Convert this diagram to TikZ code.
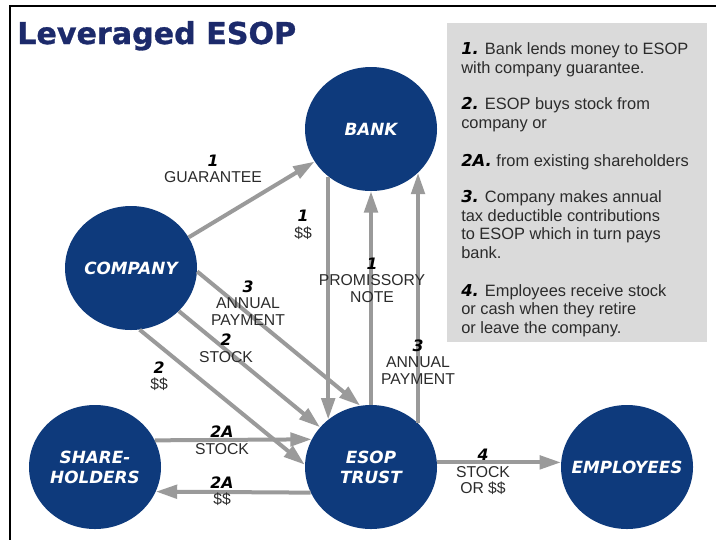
\documentclass[tikz,border=0pt]{standalone}
\usepackage{fontspec}
\setmainfont{Liberation Sans}
\newfontfamily\titlefont{DejaVu Sans Bold}[FakeBold=1]
\newfontfamily\heavyitalic{DejaVu Sans Bold Oblique}
\usetikzlibrary{shapes.geometric,arrows.meta}

\definecolor{navy}{HTML}{0E3A7C}
\definecolor{titleblue}{HTML}{1C2A6B}
\definecolor{arrowgray}{HTML}{9A9A9A}
\definecolor{panelgray}{HTML}{DADADA}
\definecolor{inkgray}{HTML}{2B2B2B}

\newcommand\stepno[1]{{\heavyitalic\color{black}#1}}

\begin{document}
\begin{tikzpicture}[x=0.75pt,y=-0.75pt,
  party/.style={ellipse,fill=navy,minimum width=99pt,minimum height=93pt,inner sep=0pt},
  partytext/.style={align=center,text=white,inner sep=0pt,
    font=\heavyitalic\fontsize{12.6}{15}\selectfont},
  flow/.style={draw=arrowgray,line width=3pt,-{Triangle[length=16pt,width=10pt]}},
  lab/.style={align=center,text=inkgray,inner sep=0pt,
    font=\fontsize{11.8}{12.4}\selectfont},
  note/.style={anchor=base west,align=left,text=inkgray,inner sep=0pt,
    font=\fontsize{12.3}{13.8}\selectfont}]

\useasboundingbox (0,0) rectangle (716,540);
\fill[white] (0,0) rectangle (716,540);

% frame rules along the top and left
\draw[line width=0.9pt] (716,6) -- (10,6) -- (10,540);

% heading
\node[anchor=base west,inner sep=0pt,text=titleblue,
  font=\titlefont\fontsize{22.6}{26}\selectfont] (title) at (17,44) {Leveraged ESOP};

% legend panel (each note is placed by the baseline of its last line)
\fill[panelgray] (447,23) rectangle (707,342);
\node[note] (n1) at (461,73) {\stepno{1.} Bank lends money to ESOP\\with company guarantee.};
\node[note] (n2) at (461,128) {\stepno{2.} ESOP buys stock from\\company or};
\node[note] (n2a) at (461,166) {\stepno{2A.} from existing shareholders};
\node[note] (n3) at (461,258) {\stepno{3.} Company makes annual\\tax deductible contributions\\to ESOP which in turn pays\\bank.};
\node[note] (n4) at (461,333) {\stepno{4.} Employees receive stock\\or cash when they retire\\or leave the company.};

% parties
\node[party] (bank) at (371,129) {};
\node[party] (company) at (131,268) {};
\node[party] (share) at (95,467) {};
\node[party] (esop) at (371,467) {};
\node[party] (emp) at (627,467) {};

\node[partytext] (bank-t) at (bank) {BANK};
\node[partytext] (company-t) at (company) {COMPANY};
\node[partytext] (share-t) at (share) {SHARE-\\HOLDERS};
\node[partytext] (esop-t) at (esop) {ESOP\\TRUST};
\node[partytext] (emp-t) at (emp) {EMPLOYEES};

% flows
\draw[flow] (company.28) -- (bank.210);
\draw[flow] (bank.-132.5) -- (esop.132.5);
\draw[flow] (esop.north) -- (bank.south);
\draw[flow] (esop.43) -- (bank.-43);
\draw[flow] (company.-3) -- (esop.100);
\draw[flow] (company.-42.6) -- (esop.142);
\draw[flow] (company.-82) -- (esop.178);
\draw[flow] (share.24.4) -- (esop.155.6);
\draw[flow] (esop.-157.5) -- (share.-22.5);
\draw[flow] (esop.4) -- (emp.176);

% flow labels
\node[lab] (l-guar) at (213,169) {\stepno{1}\\GUARANTEE};
\node[lab] (l-loan) at (303,225) {\stepno{1}\\\$\$};
\node[lab] (l-note) at (372,280) {\stepno{1}\\PROMISSORY\\NOTE};
\node[lab] (l-pay2) at (418,362) {\stepno{3}\\ANNUAL\\PAYMENT};
\node[lab] (l-pay1) at (248,303) {\stepno{3}\\ANNUAL\\PAYMENT};
\node[lab] (l-stock) at (226,348) {\stepno{2}\\STOCK};
\node[lab] (l-cash) at (159,376) {\stepno{2}\\\$\$};
\node[lab] (l-sstock) at (222,440) {\stepno{2A}\\STOCK};
\node[lab] (l-scash) at (222,491) {\stepno{2A}\\\$\$};
\node[lab] (l-emp) at (483,472) {\stepno{4}\\STOCK\\OR \$\$};
\end{tikzpicture}
\end{document}
